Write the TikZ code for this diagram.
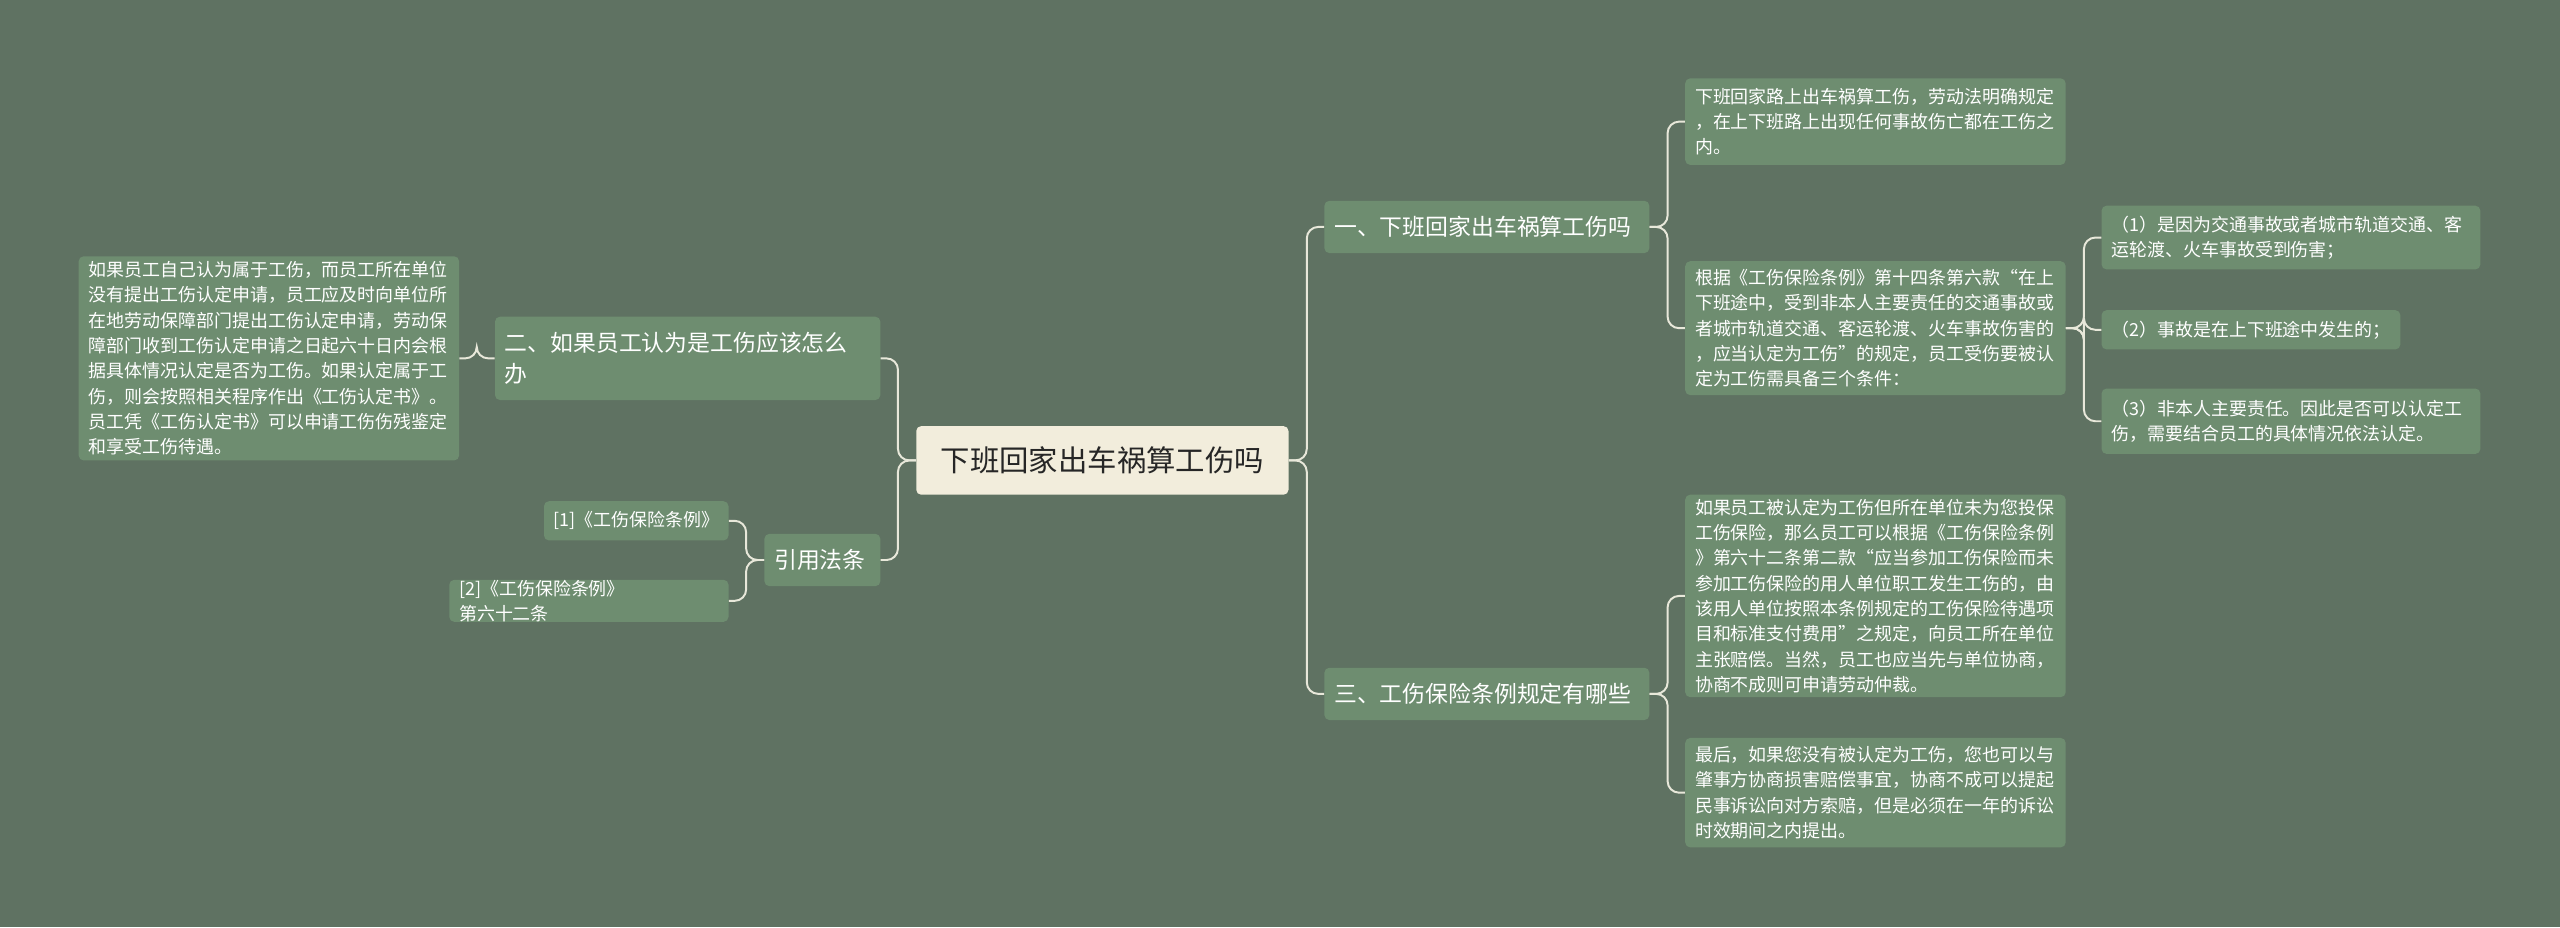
\documentclass[tikz,border=0pt]{standalone}
\usepackage{fontspec}
\setmainfont{Noto Sans CJK SC}
\definecolor{bg}{HTML}{5F7262}
\definecolor{box}{HTML}{6E8D70}
\definecolor{cbox}{HTML}{F2EDDC}
\definecolor{ln}{HTML}{E8E8DA}
\begin{document}
\begin{tikzpicture}[x=1pt,y=-1pt,
  base/.style={fill=box,text=white,rounded corners=3pt,anchor=west,inner xsep=6pt,inner ysep=0pt,align=left},
  leaf/.style={base,font=\fontsize{11}{15.5}\selectfont},
  mid/.style={base,font=\fontsize{14}{19}\selectfont},
  conn/.style={draw=ln,line width=1.2pt,rounded corners=7pt}]
\useasboundingbox[fill=bg] (0,0) rectangle (1568,568);
\newcommand{\bx}[7]{\node[#1,text width=#4-12,minimum height=#6-#5] (#7) at (#2,{(#5+#6)/2}) {#3};}
\bx{base,fill=cbox,text=black!85,font=\fontsize{18}{22}\selectfont,align=center}{561}{下班回家出车祸算工伤吗}{228}{261}{303}{ctr}
\bx{mid}{811}{一、下班回家出车祸算工伤吗}{199}{123}{155}{A}
\bx{mid}{811}{三、工伤保险条例规定有哪些}{199}{409}{441}{B}
\bx{mid}{303}{二、如果员工认为是工伤应该怎么\\办}{236}{194}{245}{C}
\bx{mid}{468}{引用法条}{71}{327}{359}{D}
\bx{leaf}{1032}{下班回家路上出车祸算工伤，劳动法明确规定\\，在上下班路上出现任何事故伤亡都在工伤之\\内。}{233}{48}{101}{A1}
\bx{leaf}{1032}{根据《工伤保险条例》第十四条第六款“在上\\下班途中，受到非本人主要责任的交通事故或\\者城市轨道交通、客运轮渡、火车事故伤害的\\，应当认定为工伤”的规定，员工受伤要被认\\定为工伤需具备三个条件：}{233}{160}{242}{A2}
\bx{leaf}{1287}{（1）是因为交通事故或者城市轨道交通、客\\运轮渡、火车事故受到伤害；}{232}{126}{165}{A2a}
\bx{leaf}{1287}{（2）事故是在上下班途中发生的；}{183}{190}{214}{A2b}
\bx{leaf}{1287}{（3）非本人主要责任。因此是否可以认定工\\伤，需要结合员工的具体情况依法认定。}{232}{238}{278}{A2c}
\bx{leaf}{1032}{如果员工被认定为工伤但所在单位未为您投保\\工伤保险，那么员工可以根据《工伤保险条例\\》第六十二条第二款“应当参加工伤保险而未\\参加工伤保险的用人单位职工发生工伤的，由\\该用人单位按照本条例规定的工伤保险待遇项\\目和标准支付费用”之规定，向员工所在单位\\主张赔偿。当然，员工也应当先与单位协商，\\协商不成则可申请劳动仲裁。}{233}{303}{427}{B1}
\bx{leaf}{1032}{最后，如果您没有被认定为工伤，您也可以与\\肇事方协商损害赔偿事宜，协商不成可以提起\\民事诉讼向对方索赔，但是必须在一年的诉讼\\时效期间之内提出。}{233}{452}{519}{B2}
\bx{leaf}{48}{如果员工自己认为属于工伤，而员工所在单位\\没有提出工伤认定申请，员工应及时向单位所\\在地劳动保障部门提出工伤认定申请，劳动保\\障部门收到工伤认定申请之日起六十日内会根\\据具体情况认定是否为工伤。如果认定属于工\\伤，则会按照相关程序作出《工伤认定书》。\\员工凭《工伤认定书》可以申请工伤伤残鉴定\\和享受工伤待遇。}{233}{157}{282}{C1}
\bx{leaf}{333}{[1]《工伤保险条例》}{113}{307}{331}{D1}
\bx{leaf}{275}{[2]《工伤保险条例》 第六十二条}{171}{356}{380}{D2}
% right connectors
\foreach \c in {A,B} \draw[conn] (ctr.east) -- ++(11,0) |- (\c.west);
\foreach \c in {A1,A2} \draw[conn] (A.east) -- ++(11,0) |- (\c.west);
\foreach \c in {B1,B2} \draw[conn] (B.east) -- ++(11,0) |- (\c.west);
\foreach \c in {A2a,A2b,A2c} \draw[conn] (A2.east) -- ++(11,0) |- (\c.west);
% left connectors
\foreach \c in {C,D} \draw[conn] (ctr.west) -- ++(-11,0) |- (\c.east);
\draw[conn] (C.west) -- ++(-11,0) |- (C1.east);
\foreach \c in {D1,D2} \draw[conn] (D.west) -- ++(-11,0) |- (\c.east);
\end{tikzpicture}
\end{document}
